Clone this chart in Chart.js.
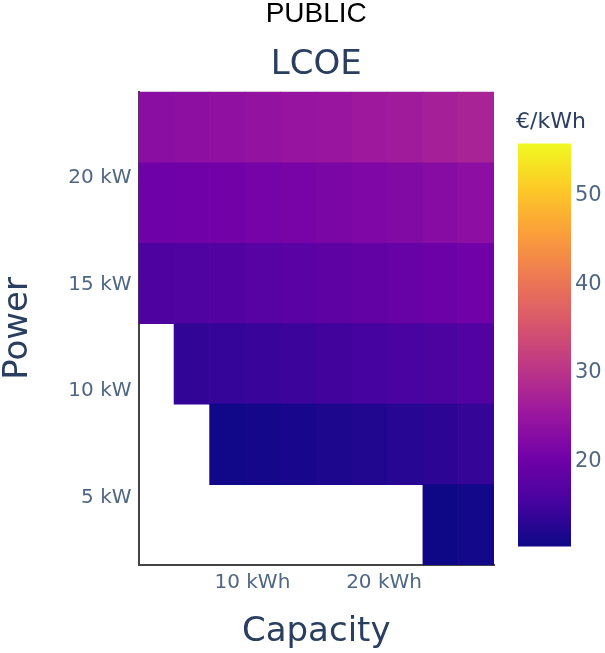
<!DOCTYPE html>
<html>
<head>
<meta charset="utf-8">
<title>LCOE</title>
<script src="https://cdn.jsdelivr.net/npm/chart.js@4.4.1/dist/chart.umd.min.js"></script>
<style>
  html, body { margin: 0; padding: 0; background: #ffffff; }
  #wrap { width: 605px; height: 653px; }
</style>
</head>
<body>
<div id="wrap"><canvas id="lcoeChart" width="605" height="653"></canvas></div>
<script>
// Battery capacity columns (kWh) and inverter power rows (kW)
const capacities = [2.7, 5.4, 8.1, 10.8, 13.5, 16.2, 18.9, 21.6, 24.3, 27.0];
const powers = [3.76, 7.52, 11.28, 15.04, 18.8, 22.56];

// LCOE in EUR/kWh per power row (null = no cell)
const lcoeRow1 = [null, null, null, null, null, null, null, null, 10.3, 10.7];
const lcoeRow2 = [null, null, 10.5, 10.9, 11.2, 11.6, 12.0, 12.5, 13.1, 13.7];
const lcoeRow3 = [null, 13.4, 13.8, 14.1, 14.5, 14.9, 15.3, 15.7, 16.1, 16.6];
const lcoeRow4 = [16.2, 16.5, 16.8, 17.2, 17.6, 18.0, 18.5, 19.0, 19.5, 20.1];
const lcoeRow5 = [19.9, 20.1, 20.4, 20.7, 21.0, 21.4, 21.8, 22.3, 22.8, 23.4];
const lcoeRow6 = [23.3, 23.6, 23.9, 24.3, 24.6, 25.0, 25.5, 26.0, 26.6, 27.2];
const lcoeRows = [lcoeRow1, lcoeRow2, lcoeRow3, lcoeRow4, lcoeRow5, lcoeRow6];

// Tick values
const capacityTicks = [10, 20];
const powerTicks = [5, 10, 15, 20];
const colorbarTicks = [20, 30, 40, 50];

// Colour scale limits and top of the power axis
const zMin = 10.25;
const zMax = 55.6;
const powerMax = 24.0;

// Plotly "Plasma" colour scale
const plasma = ['#0d0887', '#46039f', '#7201a8', '#9c179e', '#bd3786',
                '#d8576b', '#ed7953', '#fb9f3a', '#fdca26', '#f0f921'];

const titleColor = '#2a3f5f';
const tickColor = '#506784';

function hexToRgb(h) {
    return [parseInt(h.substr(1, 2), 16), parseInt(h.substr(3, 2), 16), parseInt(h.substr(5, 2), 16)];
}

// Map a value to a plasma colour
function plasmaColor(v) {
    let t = (v - zMin) / (zMax - zMin);
    t = Math.max(0, Math.min(1, t));
    const pos = t * (plasma.length - 1);
    const i = Math.min(Math.floor(pos), plasma.length - 2);
    const f = pos - i;
    const a = hexToRgb(plasma[i]), b = hexToRgb(plasma[i + 1]);
    const c = a.map((x, k) => Math.round(x + (b[k] - x) * f));
    return `rgb(${c[0]}, ${c[1]}, ${c[2]})`;
}

const capStep = capacities[1] - capacities[0];
const powStep = powers[1] - powers[0];

// One floating-bar dataset per power row
const datasets = powers.map((p, r) => {
    const pts = [];
    const cols = [];
    capacities.forEach((c, i) => {
        const v = lcoeRows[r][i];
        if (v === null) return;
        pts.push({ x: c, y: [p - powStep / 2, p + powStep / 2] });
        cols.push(plasmaColor(v));
    });
    return {
        label: p + ' kW',
        data: pts,
        backgroundColor: cols,
        borderWidth: 0,
        barPercentage: 1,
        categoryPercentage: 1,
        grouped: false
    };
});

// Colour bar on the right
const colorbarPlugin = {
    id: 'colorbar',
    afterDraw(chart) {
        const { ctx, chartArea } = chart;
        const left = chartArea.right + 24;
        const width = 53;
        const top = 143.5;
        const bottom = 546.5;
        const grad = ctx.createLinearGradient(0, bottom, 0, top);
        plasma.forEach((c, i) => grad.addColorStop(i / (plasma.length - 1), c));
        ctx.save();
        ctx.fillStyle = grad;
        ctx.fillRect(left, top, width, bottom - top);

        ctx.fillStyle = tickColor;
        ctx.font = '21px "DejaVu Sans"';
        ctx.textAlign = 'left';
        ctx.textBaseline = 'middle';
        colorbarTicks.forEach(v => {
            const y = bottom - (v - zMin) / (zMax - zMin) * (bottom - top);
            ctx.fillText(String(v), left + width + 4, y + 2);
        });

        ctx.fillStyle = titleColor;
        ctx.font = '22px "DejaVu Sans"';
        ctx.fillText('€/kWh', left - 2, 122);
        ctx.restore();
    }
};

Chart.defaults.font.family = '"DejaVu Sans", sans-serif';

new Chart(document.getElementById('lcoeChart').getContext('2d'), {
    type: 'bar',
    data: { datasets: datasets },
    plugins: [colorbarPlugin],
    options: {
        responsive: false,
        animation: false,
        layout: { padding: { left: 0, right: 111, top: 0, bottom: 0 } },
        plugins: {
            legend: { display: false },
            tooltip: { enabled: false },
            title: {
                display: true,
                text: 'PUBLIC',
                color: '#000000',
                fullSize: false,
                font: { family: '"Liberation Sans", Arial, sans-serif', size: 28, weight: 'normal', lineHeight: 1 },
                padding: { top: 0, bottom: 0 }
            },
            subtitle: {
                display: true,
                text: 'LCOE',
                color: titleColor,
                fullSize: false,
                font: { size: 34, weight: 'normal', lineHeight: 1.2 },
                padding: { top: 17, bottom: 6 }
            }
        },
        scales: {
            x: {
                type: 'linear',
                offset: false,
                min: capacities[0] - capStep / 2,
                max: capacities[capacities.length - 1] + capStep / 2,
                grid: { display: false, drawTicks: false },
                border: { display: true, color: '#444444', width: 2 },
                afterBuildTicks: scale => { scale.ticks = capacityTicks.map(v => ({ value: v })); },
                afterFit: scale => { scale.height = 88; },
                ticks: {
                    color: tickColor,
                    font: { size: 20 },
                    padding: 6,
                    maxRotation: 0,
                    callback: v => v + ' kWh'
                },
                title: {
                    display: true,
                    text: 'Capacity',
                    color: titleColor,
                    font: { size: 34, lineHeight: 1 },
                    padding: { top: 0, bottom: 4 }
                }
            },
            y: {
                type: 'linear',
                min: powers[0] - powStep / 2,
                max: powerMax,
                grid: { display: false, drawTicks: false },
                border: { display: true, color: '#444444', width: 2 },
                afterBuildTicks: scale => { scale.ticks = powerTicks.map(v => ({ value: v })); },
                afterFit: scale => { scale.width = 138.5; },
                ticks: {
                    color: tickColor,
                    font: { size: 20 },
                    padding: 7,
                    callback: v => v + ' kW'
                },
                title: {
                    display: true,
                    text: 'Power',
                    color: titleColor,
                    font: { size: 34, lineHeight: 1 },
                    padding: { top: 1, bottom: 0 }
                }
            }
        }
    }
});
</script>
</body>
</html>
